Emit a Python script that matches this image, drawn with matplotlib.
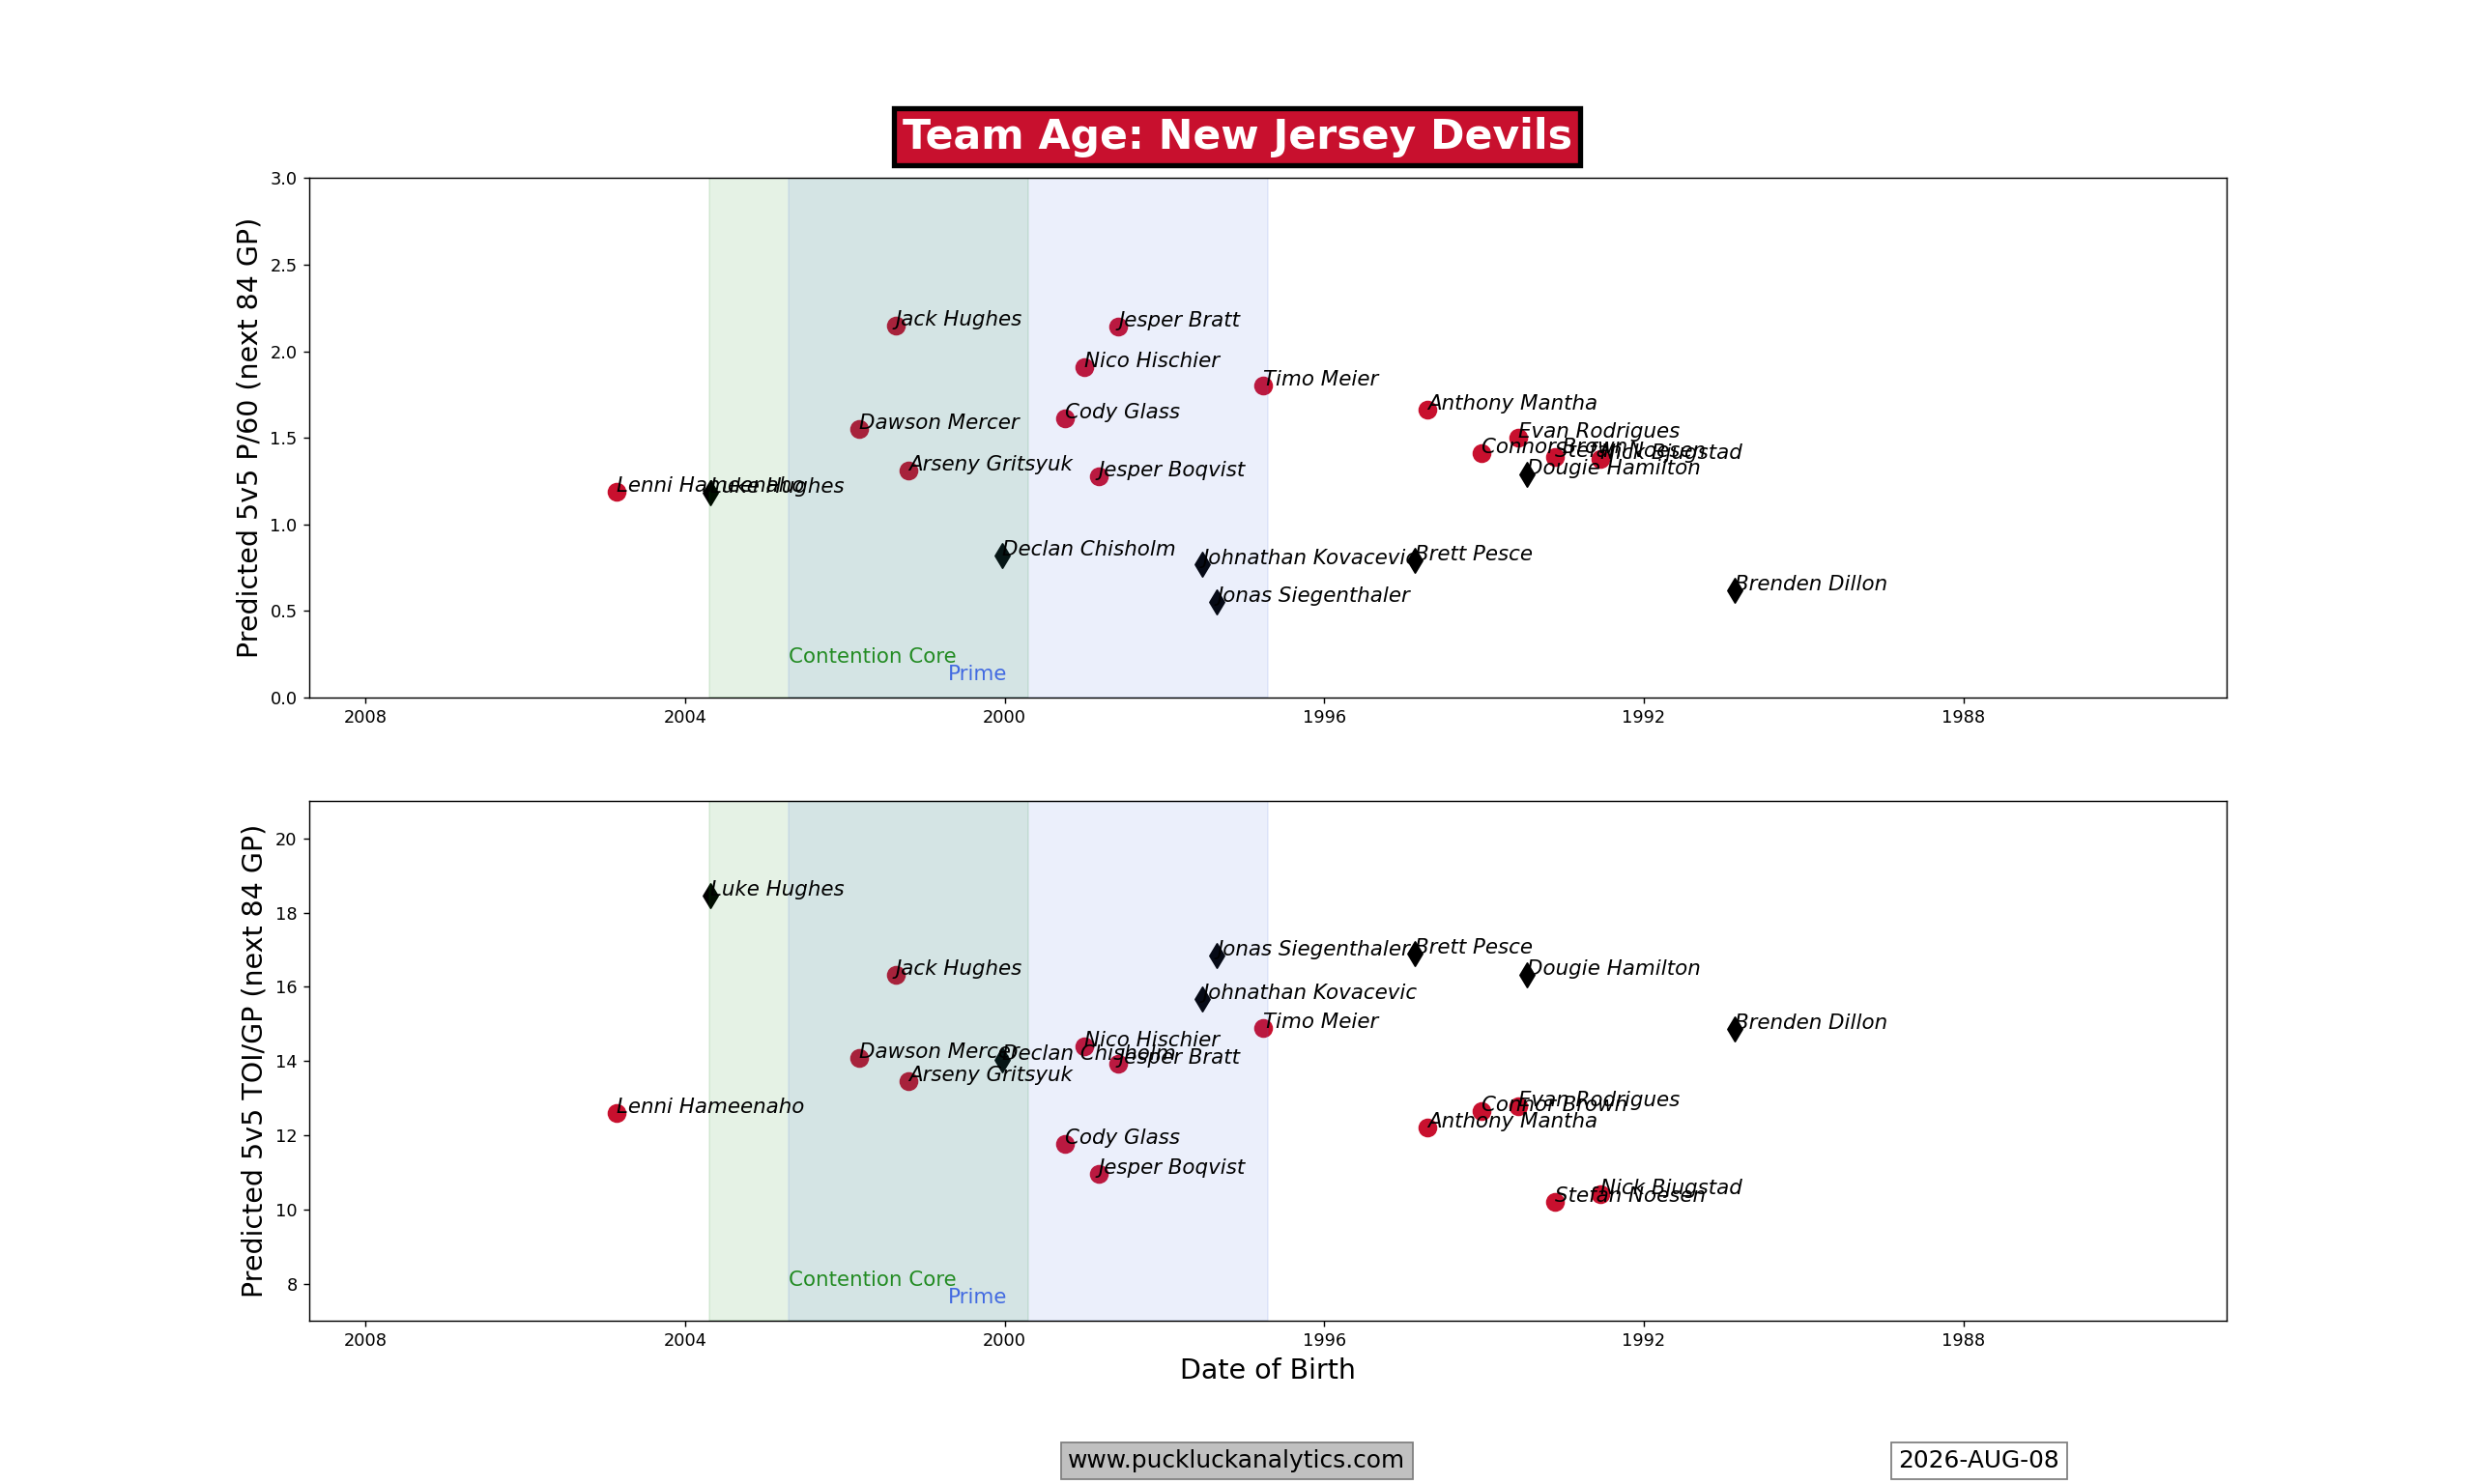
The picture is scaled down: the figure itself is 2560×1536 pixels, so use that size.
import pandas as pd
import matplotlib
matplotlib.use("Agg")
import matplotlib.pyplot as plt
import matplotlib.dates as mdates

# players: name, birth date, position, projected 5v5 P/60, projected 5v5 TOI/GP
names = ["Lenni Hameenaho", "Luke Hughes", "Jack Hughes", "Dawson Mercer",
         "Arseny Gritsyuk", "Declan Chisholm", "Cody Glass", "Nico Hischier",
         "Jesper Boqvist", "Jesper Bratt", "Johnathan Kovacevic",
         "Jonas Siegenthaler", "Timo Meier", "Brett Pesce", "Anthony Mantha",
         "Connor Brown", "Evan Rodrigues", "Dougie Hamilton", "Stefan Noesen",
         "Nick Bjugstad", "Brenden Dillon"]
birth = ["2004-11-08", "2003-09-09", "2001-05-14", "2001-10-27",
         "2001-03-15", "2000-01-12", "1999-04-01", "1999-01-04",
         "1998-10-30", "1998-07-30", "1997-07-12",
         "1997-05-06", "1996-10-08", "1994-11-15", "1994-09-16",
         "1994-01-14", "1993-07-28", "1993-06-17", "1993-02-12",
         "1992-07-17", "1990-11-13"]
pos = ["F", "D", "F", "F",
       "F", "D", "F", "F",
       "F", "F", "D",
       "D", "F", "D", "F",
       "F", "F", "D", "F",
       "F", "D"]
p60 = [1.19, 1.18, 2.15, 1.55,
       1.31, 0.82, 1.61, 1.91,
       1.28, 2.14, 0.77,
       0.55, 1.80, 0.79, 1.66,
       1.41, 1.50, 1.29, 1.39,
       1.38, 0.62]
toi = [12.59, 18.46, 16.32, 14.09,
       13.47, 14.02, 11.76, 14.39,
       10.96, 13.93, 15.67,
       16.84, 14.88, 16.90, 12.22,
       12.65, 12.79, 16.32, 10.20,
       10.42, 14.86]

team = "New Jersey Devils"
team_color = "#C8102E"
run_date = "2026-AUG-08"
ref_date = pd.Timestamp("2026-09-15")
core_ages = (23, 27)
prime_ages = (24, 30)
view_ages = (18, 42)

df = pd.DataFrame({"name": names, "dob": pd.to_datetime(birth), "pos": pos,
                   "p60": p60, "toi": toi})


def age_to_date(age):
    return ref_date - pd.DateOffset(years=age)


fig, axes = plt.subplots(2, 1, figsize=(20, 12), dpi=128)

panels = [("p60", "Predicted 5v5 P/60 (next 84 GP)", (0, 3)),
          ("toi", "Predicted 5v5 TOI/GP (next 84 GP)", (7, 21))]

for ax, (col, ylabel, ylim) in zip(axes, panels):
    fwd = df[df.pos == "F"]
    dmen = df[df.pos == "D"]
    ax.scatter(fwd.dob, fwd[col], s=100, color=team_color, marker="o")
    ax.scatter(dmen.dob, dmen[col], s=100, color="black", marker="d")
    for _, r in df.iterrows():
        ax.text(mdates.date2num(r.dob), r[col], r["name"], fontsize=12,
                style="italic")

    # age windows drawn over the markers
    ax.axvspan(age_to_date(core_ages[0]), age_to_date(core_ages[1]),
               color="green", alpha=0.1)
    ax.axvspan(age_to_date(prime_ages[0]), age_to_date(prime_ages[1]),
               color="royalblue", alpha=0.1)
    tr = ax.get_xaxis_transform()
    ax.text(mdates.date2num(age_to_date(core_ages[0] + 1)), 0.067,
            "Contention Core", color="forestgreen", fontsize=12, transform=tr)
    ax.text(mdates.date2num(age_to_date(prime_ages[0] + 2)), 0.034,
            "Prime", color="royalblue", fontsize=12, transform=tr)

    ax.set_xlim(age_to_date(view_ages[0]), age_to_date(view_ages[1]))
    ax.set_ylim(*ylim)
    ax.xaxis.set_major_locator(mdates.YearLocator(4))
    ax.xaxis.set_major_formatter(mdates.DateFormatter("%Y"))
    ax.set_ylabel(ylabel, fontsize=16)

axes[1].set_xlabel("Date of Birth", fontsize=16)

fig.text(0.5, 0.9076, "Team Age: " + team, ha="center", va="center",
         fontsize=24, fontweight="bold", color="white",
         bbox=dict(boxstyle="square,pad=0.2", facecolor=team_color,
                   edgecolor="black", linewidth=3))
fig.text(0.5, 0.0155, "www.puckluckanalytics.com", ha="center", va="center",
         fontsize=14, bbox=dict(facecolor="silver", edgecolor="gray"))
fig.text(0.8, 0.0155, run_date, ha="center", va="center", fontsize=14,
         bbox=dict(facecolor="white", edgecolor="gray"))

fig.savefig("out.png", dpi=128)
